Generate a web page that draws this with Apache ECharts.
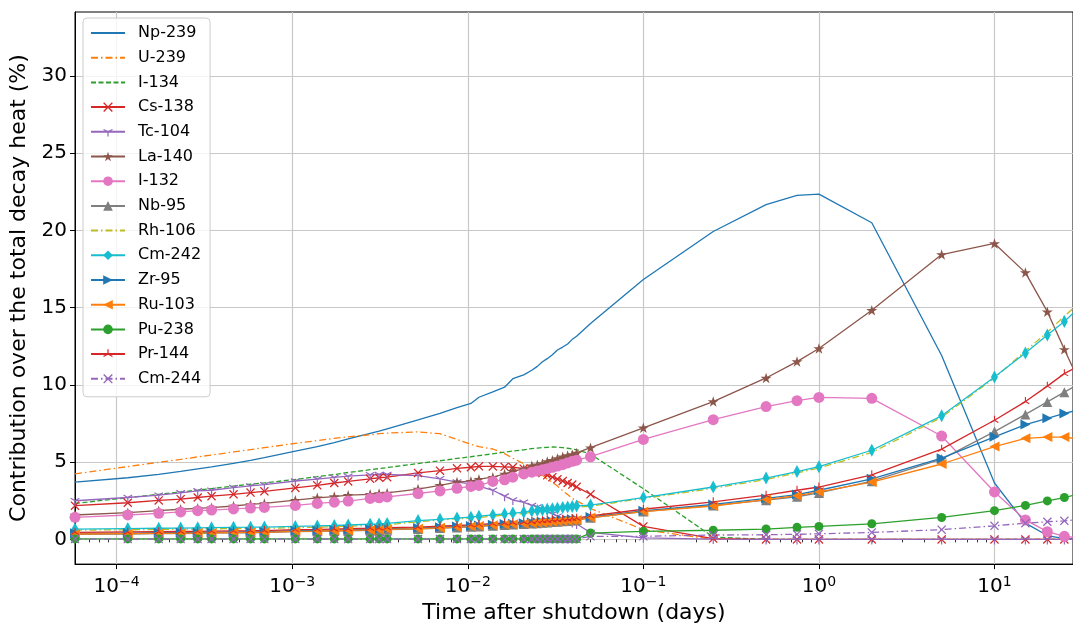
<!DOCTYPE html>
<html><head><meta charset="utf-8">
<script src="https://cdn.jsdelivr.net/npm/echarts@6/dist/echarts.min.js"></script>
<style>html,body{margin:0;padding:0;background:#fff}#c{width:1073px;height:629px}</style>
</head><body><div id="c"></div>
<script>
// Time after shutdown (days)
const timeDays = [0.0000579, 0.0001157, 0.0001736, 0.0002315, 0.0002894, 0.0003472, 0.000463, 0.0005787, 0.000694, 0.0010417,
  0.001389, 0.001736, 0.002083, 0.002778, 0.003125, 0.003472, 0.005208, 0.006944, 0.00868, 0.010417,
  0.011574, 0.013889, 0.016204, 0.018056, 0.020833, 0.023148, 0.024884, 0.02662, 0.028356, 0.030324,
  0.032407, 0.034722, 0.037037, 0.039352, 0.041667, 0.05, 0.1, 0.25, 0.5, 0.75, 1, 2, 5, 10, 15, 20, 25, 30];

const np239 = [3.71, 3.99, 4.21, 4.4, 4.56, 4.69, 4.92, 5.12, 5.29, 5.71, 6.01, 6.27, 6.5, 6.86, 7.01, 7.16, 7.74, 8.16, 8.53, 8.8, 9.2, 9.55, 9.85, 10.4, 10.65, 10.95, 11.2, 11.5, 11.7, 11.95, 12.26, 12.45, 12.65, 12.95, 13.15, 13.97, 16.82, 19.93, 21.67, 22.27, 22.35, 20.5, 11.9, 3.65, 1.05, 0.25, 0.05, 0.02];
const u239 = [4.24, 4.71, 4.99, 5.18, 5.34, 5.46, 5.66, 5.81, 5.94, 6.22, 6.39, 6.54, 6.64, 6.77, 6.84, 6.88, 6.96, 6.84, 6.47, 6.15, 6.0, 5.85, 5.55, 5.25, 4.9, 4.6, 4.4, 4.15, 3.9, 3.7, 3.45, 3.15, 2.9, 2.65, 2.5, 2.0, 0.63, 0.0, 0, 0, 0, 0, 0, 0, 0, 0, 0, 0];
const i134 = [2.33, 2.7, 2.92, 3.07, 3.19, 3.29, 3.45, 3.57, 3.66, 3.88, 4.06, 4.2, 4.33, 4.51, 4.58, 4.65, 4.91, 5.09, 5.24, 5.35, 5.42, 5.54, 5.65, 5.72, 5.8, 5.88, 5.91, 5.94, 5.96, 5.98, 5.97, 5.94, 5.9, 5.85, 5.8, 5.52, 3.28, 0.15, 0, 0, 0, 0, 0, 0, 0, 0, 0, 0];
const cs138 = [2.18, 2.37, 2.52, 2.6, 2.71, 2.8, 2.92, 3.03, 3.11, 3.33, 3.5, 3.65, 3.75, 3.92, 3.99, 4.03, 4.3, 4.45, 4.6, 4.67, 4.73, 4.72, 4.7, 4.67, 4.58, 4.45, 4.38, 4.3, 4.15, 4.03, 3.9, 3.78, 3.65, 3.55, 3.4, 2.92, 0.84, 0.05, 0, 0, 0, 0, 0, 0, 0, 0, 0, 0];
const tc104 = [2.5, 2.71, 2.86, 3.01, 3.14, 3.18, 3.35, 3.46, 3.54, 3.78, 3.9, 4.01, 4.09, 4.18, 4.2, 4.2, 4.13, 3.92, 3.71, 3.6, 3.45, 3.18, 2.8, 2.55, 2.4, 2.2, 2.1, 1.95, 1.8, 1.65, 1.5, 1.35, 1.2, 1.1, 1.0, 0.45, 0.1, 0.02, 0, 0, 0, 0, 0, 0, 0, 0, 0, 0];
const la140 = [1.58, 1.73, 1.86, 1.95, 2.01, 2.05, 2.16, 2.26, 2.33, 2.54, 2.69, 2.77, 2.86, 2.92, 2.97, 3.01, 3.26, 3.5, 3.71, 3.77, 3.9, 4.03, 4.24, 4.41, 4.56, 4.77, 4.83, 4.92, 5.05, 5.13, 5.24, 5.35, 5.43, 5.5, 5.6, 5.94, 7.22, 8.92, 10.45, 11.51, 12.36, 14.83, 18.44, 19.16, 17.27, 14.74, 12.3, 10.36];
const i132 = [1.43, 1.58, 1.69, 1.78, 1.86, 1.9, 1.97, 2.03, 2.07, 2.2, 2.33, 2.41, 2.48, 2.65, 2.69, 2.75, 2.97, 3.14, 3.31, 3.43, 3.5, 3.75, 3.86, 4.03, 4.24, 4.35, 4.42, 4.5, 4.58, 4.67, 4.75, 4.84, 4.95, 5.05, 5.13, 5.35, 6.47, 7.75, 8.6, 8.98, 9.19, 9.13, 6.69, 3.07, 1.26, 0.5, 0.2, 0.1];
const nb95 = [0.33, 0.35, 0.37, 0.38, 0.39, 0.4, 0.42, 0.43, 0.44, 0.5, 0.52, 0.54, 0.56, 0.59, 0.61, 0.63, 0.67, 0.73, 0.77, 0.81, 0.84, 0.89, 0.93, 0.96, 0.99, 1.03, 1.05, 1.07, 1.09, 1.12, 1.14, 1.17, 1.19, 1.22, 1.24, 1.4, 1.8, 2.2, 2.54, 2.76, 3.01, 3.77, 5.2, 6.98, 8.09, 8.9, 9.53, 10.05];
const rh106 = [0.6, 0.62, 0.64, 0.65, 0.67, 0.68, 0.7, 0.71, 0.72, 0.76, 0.79, 0.82, 0.85, 0.9, 0.92, 0.95, 1.14, 1.25, 1.33, 1.38, 1.42, 1.5, 1.57, 1.62, 1.67, 1.76, 1.79, 1.82, 1.87, 1.9, 1.94, 1.98, 2.02, 2.05, 2.08, 2.15, 2.65, 3.3, 3.88, 4.3, 4.62, 5.63, 7.9, 10.45, 12.2, 13.4, 14.45, 15.25];
const cm242 = [0.67, 0.7, 0.72, 0.73, 0.75, 0.76, 0.78, 0.79, 0.8, 0.84, 0.87, 0.9, 0.93, 0.98, 1.0, 1.03, 1.22, 1.3, 1.38, 1.44, 1.5, 1.58, 1.65, 1.7, 1.75, 1.84, 1.87, 1.9, 1.95, 1.98, 2.02, 2.06, 2.1, 2.13, 2.16, 2.22, 2.71, 3.39, 3.97, 4.39, 4.71, 5.77, 8.0, 10.51, 12.07, 13.23, 14.1, 14.95];
const zr95 = [0.39, 0.41, 0.43, 0.44, 0.45, 0.46, 0.48, 0.49, 0.5, 0.56, 0.58, 0.6, 0.62, 0.65, 0.67, 0.69, 0.73, 0.79, 0.83, 0.87, 0.9, 0.95, 0.99, 1.02, 1.05, 1.09, 1.11, 1.13, 1.15, 1.18, 1.2, 1.23, 1.25, 1.28, 1.3, 1.45, 1.85, 2.26, 2.65, 2.9, 3.18, 3.92, 5.26, 6.64, 7.43, 7.84, 8.15, 8.38];
const ru103 = [0.35, 0.37, 0.39, 0.4, 0.41, 0.42, 0.44, 0.45, 0.46, 0.52, 0.54, 0.56, 0.58, 0.61, 0.63, 0.65, 0.69, 0.75, 0.79, 0.83, 0.86, 0.91, 0.95, 0.98, 1.01, 1.05, 1.07, 1.09, 1.11, 1.14, 1.16, 1.19, 1.21, 1.24, 1.26, 1.41, 1.8, 2.16, 2.58, 2.83, 3.07, 3.71, 4.88, 6.01, 6.54, 6.62, 6.62, 6.5];
const pu238 = [0.03, 0.03, 0.03, 0.03, 0.03, 0.03, 0.03, 0.03, 0.03, 0.03, 0.03, 0.03, 0.03, 0.03, 0.03, 0.03, 0.03, 0.03, 0.03, 0.03, 0.03, 0.03, 0.03, 0.03, 0.03, 0.03, 0.03, 0.03, 0.03, 0.03, 0.03, 0.03, 0.03, 0.03, 0.03, 0.41, 0.52, 0.59, 0.67, 0.78, 0.84, 1.01, 1.42, 1.86, 2.2, 2.49, 2.71, 2.94];
const pr144 = [0.46, 0.48, 0.5, 0.51, 0.52, 0.53, 0.55, 0.56, 0.57, 0.63, 0.65, 0.67, 0.69, 0.72, 0.74, 0.76, 0.8, 0.86, 0.9, 0.94, 0.97, 1.02, 1.06, 1.09, 1.12, 1.16, 1.18, 1.2, 1.22, 1.25, 1.27, 1.3, 1.32, 1.35, 1.37, 1.52, 1.95, 2.43, 2.86, 3.18, 3.39, 4.18, 5.84, 7.71, 8.92, 9.92, 10.73, 11.22];
const cm244 = [0.02, 0.02, 0.02, 0.02, 0.02, 0.02, 0.02, 0.02, 0.02, 0.02, 0.02, 0.02, 0.02, 0.02, 0.02, 0.02, 0.02, 0.02, 0.02, 0.02, 0.02, 0.02, 0.02, 0.02, 0.02, 0.02, 0.02, 0.02, 0.02, 0.02, 0.02, 0.02, 0.02, 0.02, 0.02, 0.2, 0.2, 0.28, 0.3, 0.33, 0.36, 0.45, 0.63, 0.88, 1.05, 1.14, 1.2, 1.28];

const xMajorTicks = [1e-4, 1e-3, 1e-2, 1e-1, 1, 10];
const yTicks = [0, 5, 10, 15, 20, 25, 30];

// marker shapes (styles)
const SYM = {
  x: 'path://M1,0L5,4L9,0L10,1L6,5L10,9L9,10L5,6L1,10L0,9L4,5L0,1Z',
  star: 'path://M5,0L6.12,3.45L9.76,3.45L6.82,5.59L7.94,9.05L5,6.91L2.06,9.05L3.18,5.59L0.24,3.45L3.88,3.45Z',
  triDown: 'path://M4.4,5L5.6,5L5.6,10L4.4,10Z M5.3,4.48L0.97,1.98L0.37,3.02L4.7,5.52Z M4.7,4.48L9.03,1.98L9.63,3.02L5.3,5.52Z M5,0L5.01,0L5,0.01Z',
  triUp: 'path://M4.4,5L5.6,5L5.6,0L4.4,0Z M5.3,5.52L0.97,8.02L0.37,6.98L4.7,4.48Z M4.7,5.52L9.03,8.02L9.63,6.98L5.3,4.48Z M5,10L5.01,10L5,9.99Z',
  right: 'path://M0,0L10,5L0,10Z',
  left: 'path://M10,0L0,5L10,10Z'
};
const DASHDOT = [7, 3, 1.5, 3];
const DASHED = [5, 2.5];

const defs = [
  {name:'Np-239', d:np239, c:'#1f77b4', s:'none'},
  {name:'U-239', d:u239, c:'#ff7f0e', s:'none', t:DASHDOT},
  {name:'I-134', d:i134, c:'#2ca02c', s:'none', t:DASHED},
  {name:'Cs-138', d:cs138, c:'#d62728', s:SYM.x, z:9},
  {name:'Tc-104', d:tc104, c:'#9467bd', s:SYM.triDown, z:10},
  {name:'La-140', d:la140, c:'#8c564b', s:SYM.star, z:11},
  {name:'I-132', d:i132, c:'#e377c2', s:'circle', z:11},
  {name:'Nb-95', d:nb95, c:'#7f7f7f', s:'triangle', z:10},
  {name:'Rh-106', d:rh106, c:'#bcbd22', s:'none', t:DASHDOT},
  {name:'Cm-242', d:cm242, c:'#17becf', s:'diamond', z:[7,13]},
  {name:'Zr-95', d:zr95, c:'#1f77b4', s:SYM.right, z:10},
  {name:'Ru-103', d:ru103, c:'#ff7f0e', s:SYM.left, z:10},
  {name:'Pu-238', d:pu238, c:'#2ca02c', s:'circle', z:9},
  {name:'Pr-144', d:pr144, c:'#d62728', s:SYM.triUp, z:9},
  {name:'Cm-244', d:cm244, c:'#9467bd', s:SYM.x, z:9, t:DASHDOT}
];

const FONT = 'DejaVu Sans';
const minorTicks = [];
for (let e = -5; e <= 1; e++) for (let k = 2; k <= 9; k++) minorTicks.push(k * Math.pow(10, e));

const series = defs.map(o => ({
  name: o.name,
  type: 'line',
  xAxisIndex: 0,
  data: timeDays.map((t, i) => [t, o.d[i]]),
  symbol: o.s,
  showSymbol: o.s !== 'none',
  symbolSize: o.z || 9,
  symbolKeepAspect: true,
  lineStyle: {color: o.c, width: 1.3, type: o.t || 'solid'},
  itemStyle: {color: o.c, borderWidth: 0},
  emphasis: {disabled: true},
  clip: true,
  animation: false
}));

const legendData = defs.map(o => o.s === 'none'
  ? {name: o.name, itemStyle: {opacity: 0}}
  : {name: o.name});

const chart = echarts.init(document.getElementById('c'), null, {renderer: 'canvas'});
chart.setOption({
  animation: false,
  textStyle: {fontFamily: FONT},
  grid: {left: 75, right: 0, top: 12, bottom: 56, show: true, borderColor: '#000', borderWidth: 1, backgroundColor: 'transparent'},
  legend: {
    orient: 'vertical', left: 83, top: 18,
    padding: [7, 9, 10, 7],
    itemWidth: 34, itemHeight: 12, itemGap: 8.7,
    backgroundColor: 'rgba(255,255,255,0.8)', borderColor: '#cccccc', borderWidth: 1, borderRadius: 4,
    textStyle: {fontFamily: FONT, fontSize: 16, color: '#000', lineHeight: 14, padding: [0, 0, 0, 8]},
    data: legendData
  },
  xAxis: [{
    type: 'log', logBase: 10, min: timeDays[0], max: 28,
    name: 'Time after shutdown (days)', nameLocation: 'middle', nameGap: 33,
    nameTextStyle: {fontFamily: FONT, fontSize: 22, color: '#000'},
    axisLine: {show: true, onZero: false, lineStyle: {color: '#000', width: 1}},
    axisTick: {show: true, length: 5, inside: false, customValues: xMajorTicks, lineStyle: {color: '#000', width: 1}},
    axisLabel: {
      customValues: xMajorTicks, margin: 11, color: '#000',
      formatter: v => {
        const e = Math.round(Math.log10(v));
        return '{b|10}{s|' + (e < 0 ? '\u2212' + (-e) : e) + '}';
      },
      rich: {b: {fontFamily: FONT, fontSize: 20, color: '#000'}, s: {fontFamily: FONT, fontSize: 14, color: '#000', padding: [0, 0, 10, 0]}}
    },
    splitLine: {show: true, lineStyle: {color: '#c8c8c8', width: 1.2}}
  }, {
    type: 'log', logBase: 10, min: timeDays[0], max: 28, position: 'bottom',
    axisLine: {show: false}, axisLabel: {show: false}, splitLine: {show: false},
    axisTick: {show: true, length: 3, customValues: minorTicks, lineStyle: {color: '#000', width: 0.8}}
  }],
  yAxis: {
    type: 'value', min: -1.6, max: 34.14,
    name: 'Contribution over the total decay heat (%)', nameLocation: 'middle', nameGap: 42,
    nameTextStyle: {fontFamily: FONT, fontSize: 22, color: '#000'},
    axisLine: {show: true, onZero: false, lineStyle: {color: '#000', width: 1}},
    axisTick: {show: true, length: 5, customValues: yTicks, lineStyle: {color: '#000', width: 1}},
    axisLabel: {customValues: yTicks, fontFamily: FONT, fontSize: 20, color: '#000', margin: 8},
    splitLine: {show: true, lineStyle: {color: '#c8c8c8', width: 1.2}}
  },
  series: series
});
</script></body></html>
